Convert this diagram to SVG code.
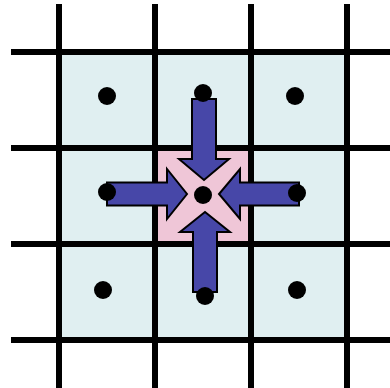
<svg xmlns="http://www.w3.org/2000/svg" width="390" height="388" viewBox="0 0 390 388">
<style>
.cell{fill:#e0eff1}
.center{fill:#efc6d7}
.grid line{stroke:#000;stroke-width:6}
.arrow{fill:#4747a8;stroke:#000;stroke-width:2;stroke-linejoin:miter}
.dot{fill:#000}
</style>
<rect width="390" height="388" fill="#fff"/>
<g id="cells">
<rect class="cell" x="59" y="52" width="288" height="288"/>
<rect class="center" x="155" y="148" width="96" height="96"/>
</g>
<g id="grid" class="grid">
<line x1="59" y1="4" x2="59" y2="388"/>
<line x1="155" y1="4" x2="155" y2="388"/>
<line x1="251" y1="4" x2="251" y2="388"/>
<line x1="347" y1="4" x2="347" y2="388"/>
<line x1="11" y1="52" x2="390" y2="52"/>
<line x1="11" y1="148" x2="390" y2="148"/>
<line x1="11" y1="244" x2="390" y2="244"/>
<line x1="11" y1="340" x2="390" y2="340"/>
</g>
<g id="connectors">
<polygon class="arrow" points="192,99 216,99 216,159 229,159 204,180 179,159 192,159"/>
<polygon class="arrow" points="193,292 217,292 217,232 230,232 205,212 180,232 193,232"/>
<polygon class="arrow" points="107,182.5 167,182.5 167,169 187,194 167,219 167,205.5 107,205.5"/>
<polygon class="arrow" points="299,182.5 240,182.5 240,169 219,194 240,219 240,205.5 299,205.5"/>
</g>
<g id="n-tl"><circle class="dot" cx="107" cy="96" r="9"/></g>
<g id="n-tc"><circle class="dot" cx="203" cy="93" r="9"/></g>
<g id="n-tr"><circle class="dot" cx="295" cy="96" r="9"/></g>
<g id="n-ml"><circle class="dot" cx="107" cy="192" r="9"/></g>
<g id="n-mc"><circle class="dot" cx="203" cy="195" r="9"/></g>
<g id="n-mr"><circle class="dot" cx="297" cy="193" r="9"/></g>
<g id="n-bl"><circle class="dot" cx="103" cy="290" r="9"/></g>
<g id="n-bc"><circle class="dot" cx="205" cy="296" r="9"/></g>
<g id="n-br"><circle class="dot" cx="297" cy="290" r="9"/></g>
</svg>
